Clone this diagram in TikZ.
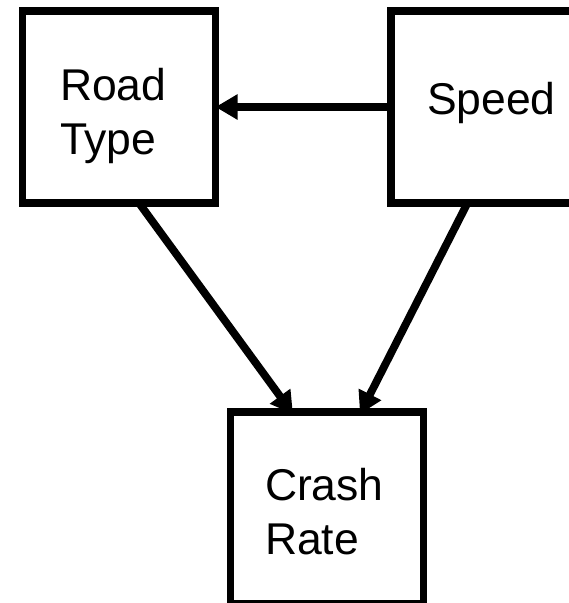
\documentclass[tikz,border=0pt]{standalone}
\usepackage{fontspec}
\setmainfont{Liberation Sans}
\usetikzlibrary{arrows.meta}
\begin{document}
\begin{tikzpicture}[x=1pt,y=-1pt,
  box/.style={draw=black, line width=7.8pt, rectangle, inner sep=0pt, outer sep=0pt,
    minimum width=193pt, minimum height=192pt},
  txt/.style={anchor=north west, align=left, inner sep=0pt, outer sep=0pt,
    font=\fontsize{44.5}{54}\selectfont},
  conn/.style={line width=7.8pt, -{Triangle[length=22pt,width=24pt]}}]
\useasboundingbox (0,0) rectangle (569,603);
\clip (0,0) rectangle (569,603);
\fill[white] (0,0) rectangle (569,603);
\node[box] (road) at (119,107) {};
\node[box] (speed) at (487.5,107) {};
\node[box] (crash) at (327,508) {};
\node[txt] (roadtxt) at (60,68) {Road\\Type};
\node[txt] (speedtxt) at (427,82) {Speed};
\node[txt] (crashtxt) at (265,468) {Crash\\Rate};
\draw[conn] (speed.west) -- (road.east);
\draw[conn] ([xshift=20pt]road.south) -- ([xshift=-34pt,yshift=-2pt]crash.north);
\draw[conn] ([xshift=-20pt]speed.south) -- ([xshift=33pt,yshift=-2pt]crash.north);
\end{tikzpicture}
\end{document}
